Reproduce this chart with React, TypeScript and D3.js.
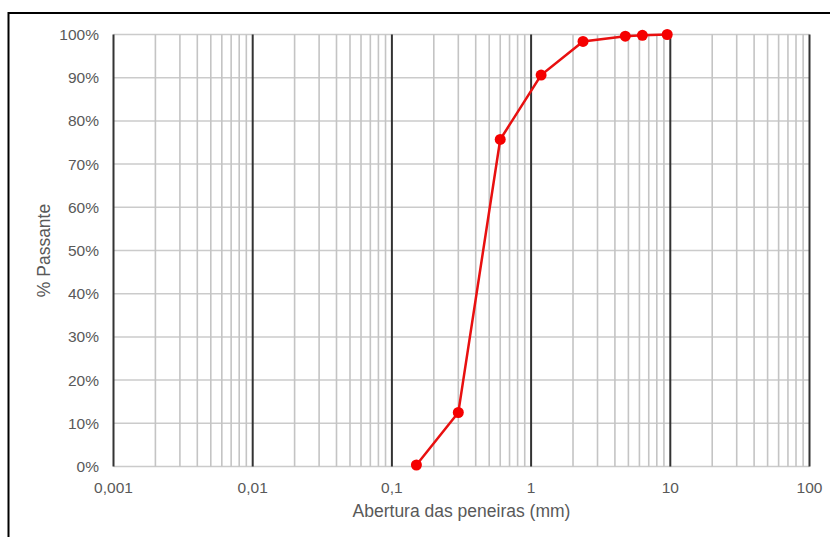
import * as d3 from "d3";

const sieves = [0.15, 0.3, 0.6, 1.18, 2.36, 4.75, 6.3, 9.5];
const passing = [0.35, 12.5, 75.7, 90.6, 98.4, 99.6, 99.8, 100];
const xTickValues = [0.001, 0.01, 0.1, 1, 10, 100];
const xTickLabels = ["0,001", "0,01", "0,1", "1", "10", "100"];
const yTickValues = [0, 10, 20, 30, 40, 50, 60, 70, 80, 90, 100];

const W = 830;
const H = 537;
const margin = { left: 113.5, right: 809.5, top: 34.5, bottom: 466.5 };

const App = () => {
  const x = d3.scaleLog().domain([0.001, 100]).range([margin.left, margin.right]);
  const y = d3.scaleLinear().domain([0, 100]).range([margin.bottom, margin.top]);

  // minor ticks 2..9 in each decade
  const minor: number[] = [];
  for (let d = 0; d < xTickValues.length - 1; d++) {
    for (let k = 2; k <= 9; k++) minor.push(xTickValues[d] * k);
  }

  const line = d3
    .line<number>()
    .x((_, i) => x(sieves[i]))
    .y((d) => y(d));

  const font = "'Liberation Sans', Arial, sans-serif";

  return (
    <svg
      width={W}
      height={H}
      style={{ position: "absolute", left: 0, top: 0, background: "#fff" }}
    >
      {/* frame */}
      <line x1={8} x2={W} y1={13} y2={13} stroke="#000" strokeWidth={2} />
      <line x1={8.5} x2={8.5} y1={12} y2={H} stroke="#000" strokeWidth={2} />

      {/* horizontal grid */}
      {yTickValues.map((v) => (
        <line
          key={"h" + v}
          x1={margin.left}
          x2={margin.right}
          y1={y(v)}
          y2={y(v)}
          stroke="#cbcbcb"
          strokeWidth={1.5}
        />
      ))}
      {/* minor vertical grid */}
      {minor.map((v) => (
        <line
          key={"m" + v}
          x1={x(v)}
          x2={x(v)}
          y1={margin.top}
          y2={margin.bottom}
          stroke="#c4c4c4"
          strokeWidth={1.6}
        />
      ))}
      {/* major vertical grid */}
      {xTickValues.map((v) => (
        <line
          key={"M" + v}
          x1={x(v)}
          x2={x(v)}
          y1={margin.top}
          y2={margin.bottom}
          stroke="#333"
          strokeWidth={2}
        />
      ))}

      {/* y tick labels */}
      {yTickValues.map((v) => (
        <text
          key={"yl" + v}
          x={99}
          y={y(v)}
          dy="0.36em"
          textAnchor="end"
          fontFamily={font}
          fontSize={15.5}
          fill="#595959"
        >
          {v + "%"}
        </text>
      ))}
      {/* x tick labels */}
      {xTickValues.map((v, i) => (
        <text
          key={"xl" + v}
          x={x(v)}
          y={493}
          textAnchor="middle"
          fontFamily={font}
          fontSize={15.5}
          fill="#595959"
        >
          {xTickLabels[i]}
        </text>
      ))}

      {/* axis titles */}
      <text
        x={(margin.left + margin.right) / 2}
        y={517}
        textAnchor="middle"
        fontFamily={font}
        fontSize={17.5}
        fill="#595959"
      >
        Abertura das peneiras (mm)
      </text>
      <text
        transform={`translate(50,${(margin.top + margin.bottom) / 2}) rotate(-90)`}
        textAnchor="middle"
        fontFamily={font}
        fontSize={17.5}
        fill="#595959"
      >
        % Passante
      </text>

      {/* data */}
      <path d={line(passing) || ""} fill="none" stroke="#e81010" strokeWidth={2.5} />
      {passing.map((v, i) => (
        <circle key={"p" + i} cx={x(sieves[i])} cy={y(v)} r={5.5} fill="#f50000" />
      ))}
    </svg>
  );
};

export default App;
